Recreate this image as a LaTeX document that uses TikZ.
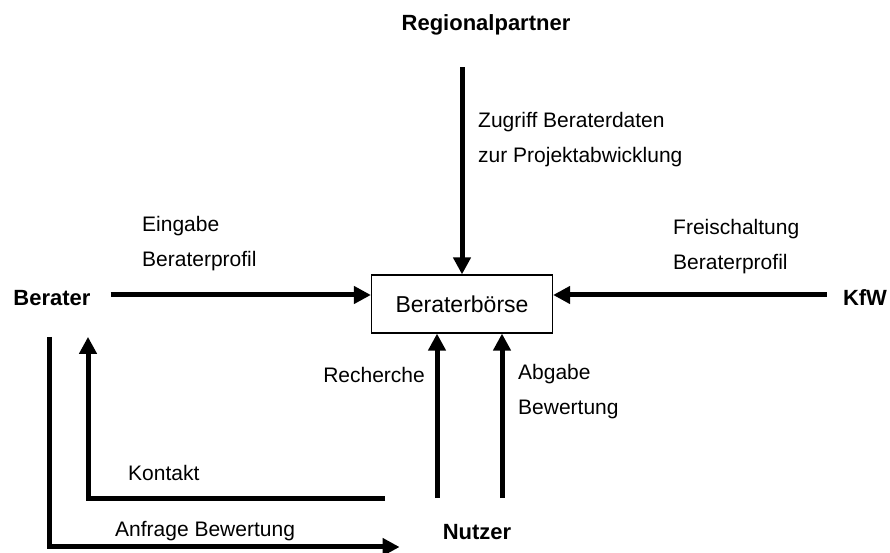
\documentclass[tikz,border=0pt]{standalone}
\usepackage{fontspec}
\setmainfont{Liberation Sans}
\newcommand{\lblfont}{\fontsize{21}{35}\selectfont}
\newcommand{\partfont}{\fontsize{22}{26}\selectfont\bfseries}
\usetikzlibrary{arrows.meta}

\begin{document}
\begin{tikzpicture}[x=1pt, y=1pt,
    fluss/.style={line width=5pt, -{Triangle[length=17pt,width=17pt]}},
    partner/.style={font=\partfont, inner sep=0pt},
    lbl/.style={font=\lblfont, inner sep=0pt, align=left}]

    \useasboundingbox (0, 0) rectangle (890, 553);

    \node[draw, line width=1.2pt, minimum width=181, minimum height=58, inner sep=0pt, font=\fontsize{23}{28}\selectfont] (boerse) at (462, 249) {Beraterbörse};

    \node[partner] (regio) at (486, 528) {Regionalpartner};
    \node[partner] (berater) at (52, 255) {Berater};
    \node[partner] (kfw) at (865, 255) {KfW};
    \node[partner] (nutzer) at (477, 21) {Nutzer};

    \node[lbl, anchor=west] (lblzugriff) at (478, 413) {Zugriff Beraterdaten\\zur Projektabwicklung};
    \node[lbl, anchor=west] (lbleingabe) at (142, 309) {Eingabe\\Beraterprofil};
    \node[lbl, anchor=west] (lblfrei) at (673, 306) {Freischaltung\\Beraterprofil};
    \node[lbl, anchor=east] (lblrecherche) at (425, 178) {Recherche};
    \node[lbl, anchor=west] (lblabgabe) at (518, 161) {Abgabe\\Bewertung};
    \node[lbl, anchor=west] (lblkontakt) at (128, 80) {Kontakt};
    \node[lbl, anchor=west] (lblanfrage) at (115, 22) {Anfrage Bewertung};

    \draw[fluss] ([yshift=-32]boerse.north |- regio.south) -- (boerse.north);
    \draw[fluss] ([shift={(20,3)}]berater.east) -- ([yshift=9]boerse.west);
    \draw[fluss] ([shift={(-16,3)}]kfw.west) -- ([yshift=9]boerse.east);

    % Nutzer -> Boerse
    \draw[fluss] ([xshift=-25,yshift=26]boerse.south |- nutzer.north) -- ([xshift=-25]boerse.south);
    \draw[fluss] ([xshift=40,yshift=26]boerse.south |- nutzer.north) -- ([xshift=40]boerse.south);

    % Nutzer <-> Berater
    \draw[fluss] ([shift={(-92,26)}]nutzer.north) -| ([shift={(36,-31)}]berater.south);
    \draw[fluss] ([shift={(-3,-31)}]berater.south) |- ([shift={(-43,-15)}]nutzer.west);

\end{tikzpicture}
\end{document}
